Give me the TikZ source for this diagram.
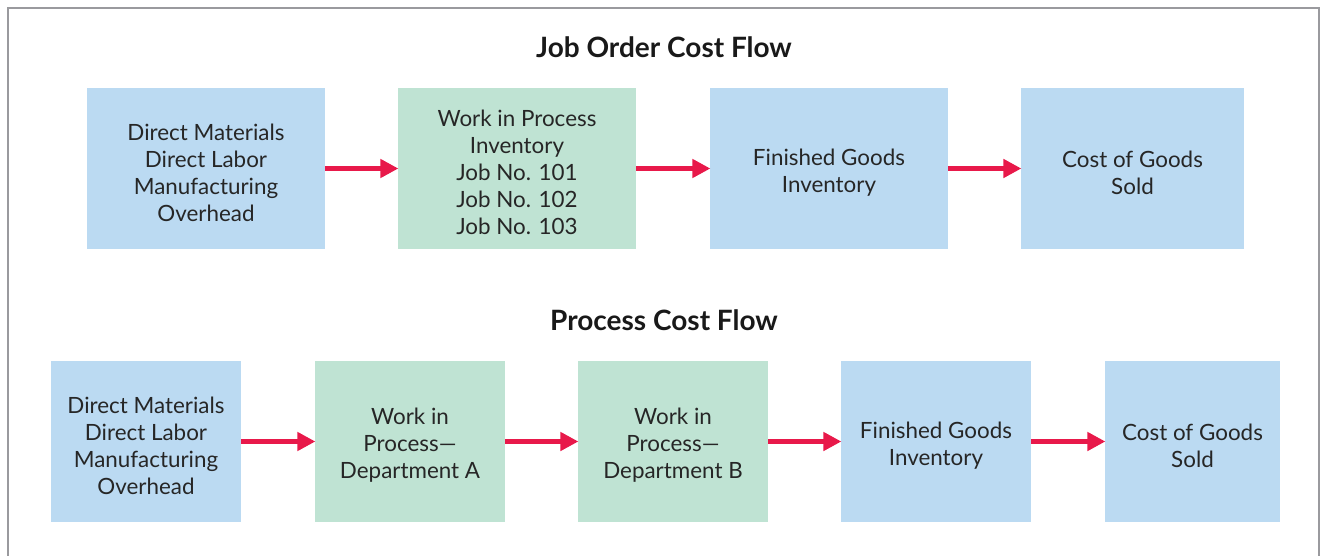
\documentclass[tikz,border=0pt]{standalone}
\usepackage{fontspec}
\setmainfont{Lato}
\usetikzlibrary{arrows.meta}
\definecolor{boxblue}{HTML}{BBDAF2}
\definecolor{boxgreen}{HTML}{BFE3D3}
\definecolor{arrred}{HTML}{E8194A}
\definecolor{framegray}{HTML}{9A9A9E}
\newcommand{\tstrut}{\rule{0pt}{18.5pt}}
\begin{document}
\begin{tikzpicture}[x=0.75pt,y=-0.75pt,
  costbox/.style={rectangle,inner sep=0pt,align=center,font=\fontsize{16.8}{20.2}\selectfont,text=black!85},
  bluebox/.style={costbox,fill=boxblue},
  greenbox/.style={costbox,fill=boxgreen},
  flowarrow/.style={draw=arrred,line width=3.8pt,-{Triangle[length=13.5pt,width=13.5pt]},shorten >=-0.5pt},
  titletext/.style={font=\bfseries\fontsize{21}{24}\selectfont,text=black!90}]
\useasboundingbox (0,0) rectangle (1320,556);
\draw[framegray,line width=2pt] (8,556) -- (8,8) -- (1319,8) -- (1319,556);
\node[titletext] (t1) at (664,47) {Job Order Cost Flow};
\node[titletext] (t2) at (664,320) {Process Cost Flow};
% row 1
\node[bluebox,minimum width=238*0.75pt,minimum height=161*0.75pt] (a1) at (206,168.5) {\tstrut Direct Materials\\Direct Labor\\Manufacturing\\Overhead};
\node[greenbox,minimum width=238*0.75pt,minimum height=161*0.75pt] (a2) at (517,168.5) {\tstrut Work in Process\\Inventory\\Job No. 101\\Job No. 102\\Job No. 103};
\node[bluebox,minimum width=238*0.75pt,minimum height=161*0.75pt] (a3) at (829,168.5) {\tstrut Finished Goods\\Inventory};
\node[bluebox,minimum width=223*0.75pt,minimum height=161*0.75pt] (a4) at (1132.5,168.5) {\tstrut Cost of Goods\\Sold};
\draw[flowarrow] (a1) -- (a2);
\draw[flowarrow] (a2) -- (a3);
\draw[flowarrow] (a3) -- (a4);
% row 2
\node[bluebox,minimum width=190*0.75pt,minimum height=161*0.75pt] (b1) at (146,441.5) {\tstrut Direct Materials\\Direct Labor\\Manufacturing\\Overhead};
\node[greenbox,minimum width=190*0.75pt,minimum height=161*0.75pt] (b2) at (410,441.5) {\tstrut Work in\\Process---\\Department A};
\node[greenbox,minimum width=190*0.75pt,minimum height=161*0.75pt] (b3) at (673,441.5) {\tstrut Work in\\Process---\\Department B};
\node[bluebox,minimum width=190*0.75pt,minimum height=161*0.75pt] (b4) at (936,441.5) {\tstrut Finished Goods\\Inventory};
\node[bluebox,minimum width=175*0.75pt,minimum height=161*0.75pt] (b5) at (1192.5,441.5) {\tstrut Cost of Goods\\Sold};
\draw[flowarrow] (b1) -- (b2);
\draw[flowarrow] (b2) -- (b3);
\draw[flowarrow] (b3) -- (b4);
\draw[flowarrow] (b4) -- (b5);
\end{tikzpicture}
\end{document}
